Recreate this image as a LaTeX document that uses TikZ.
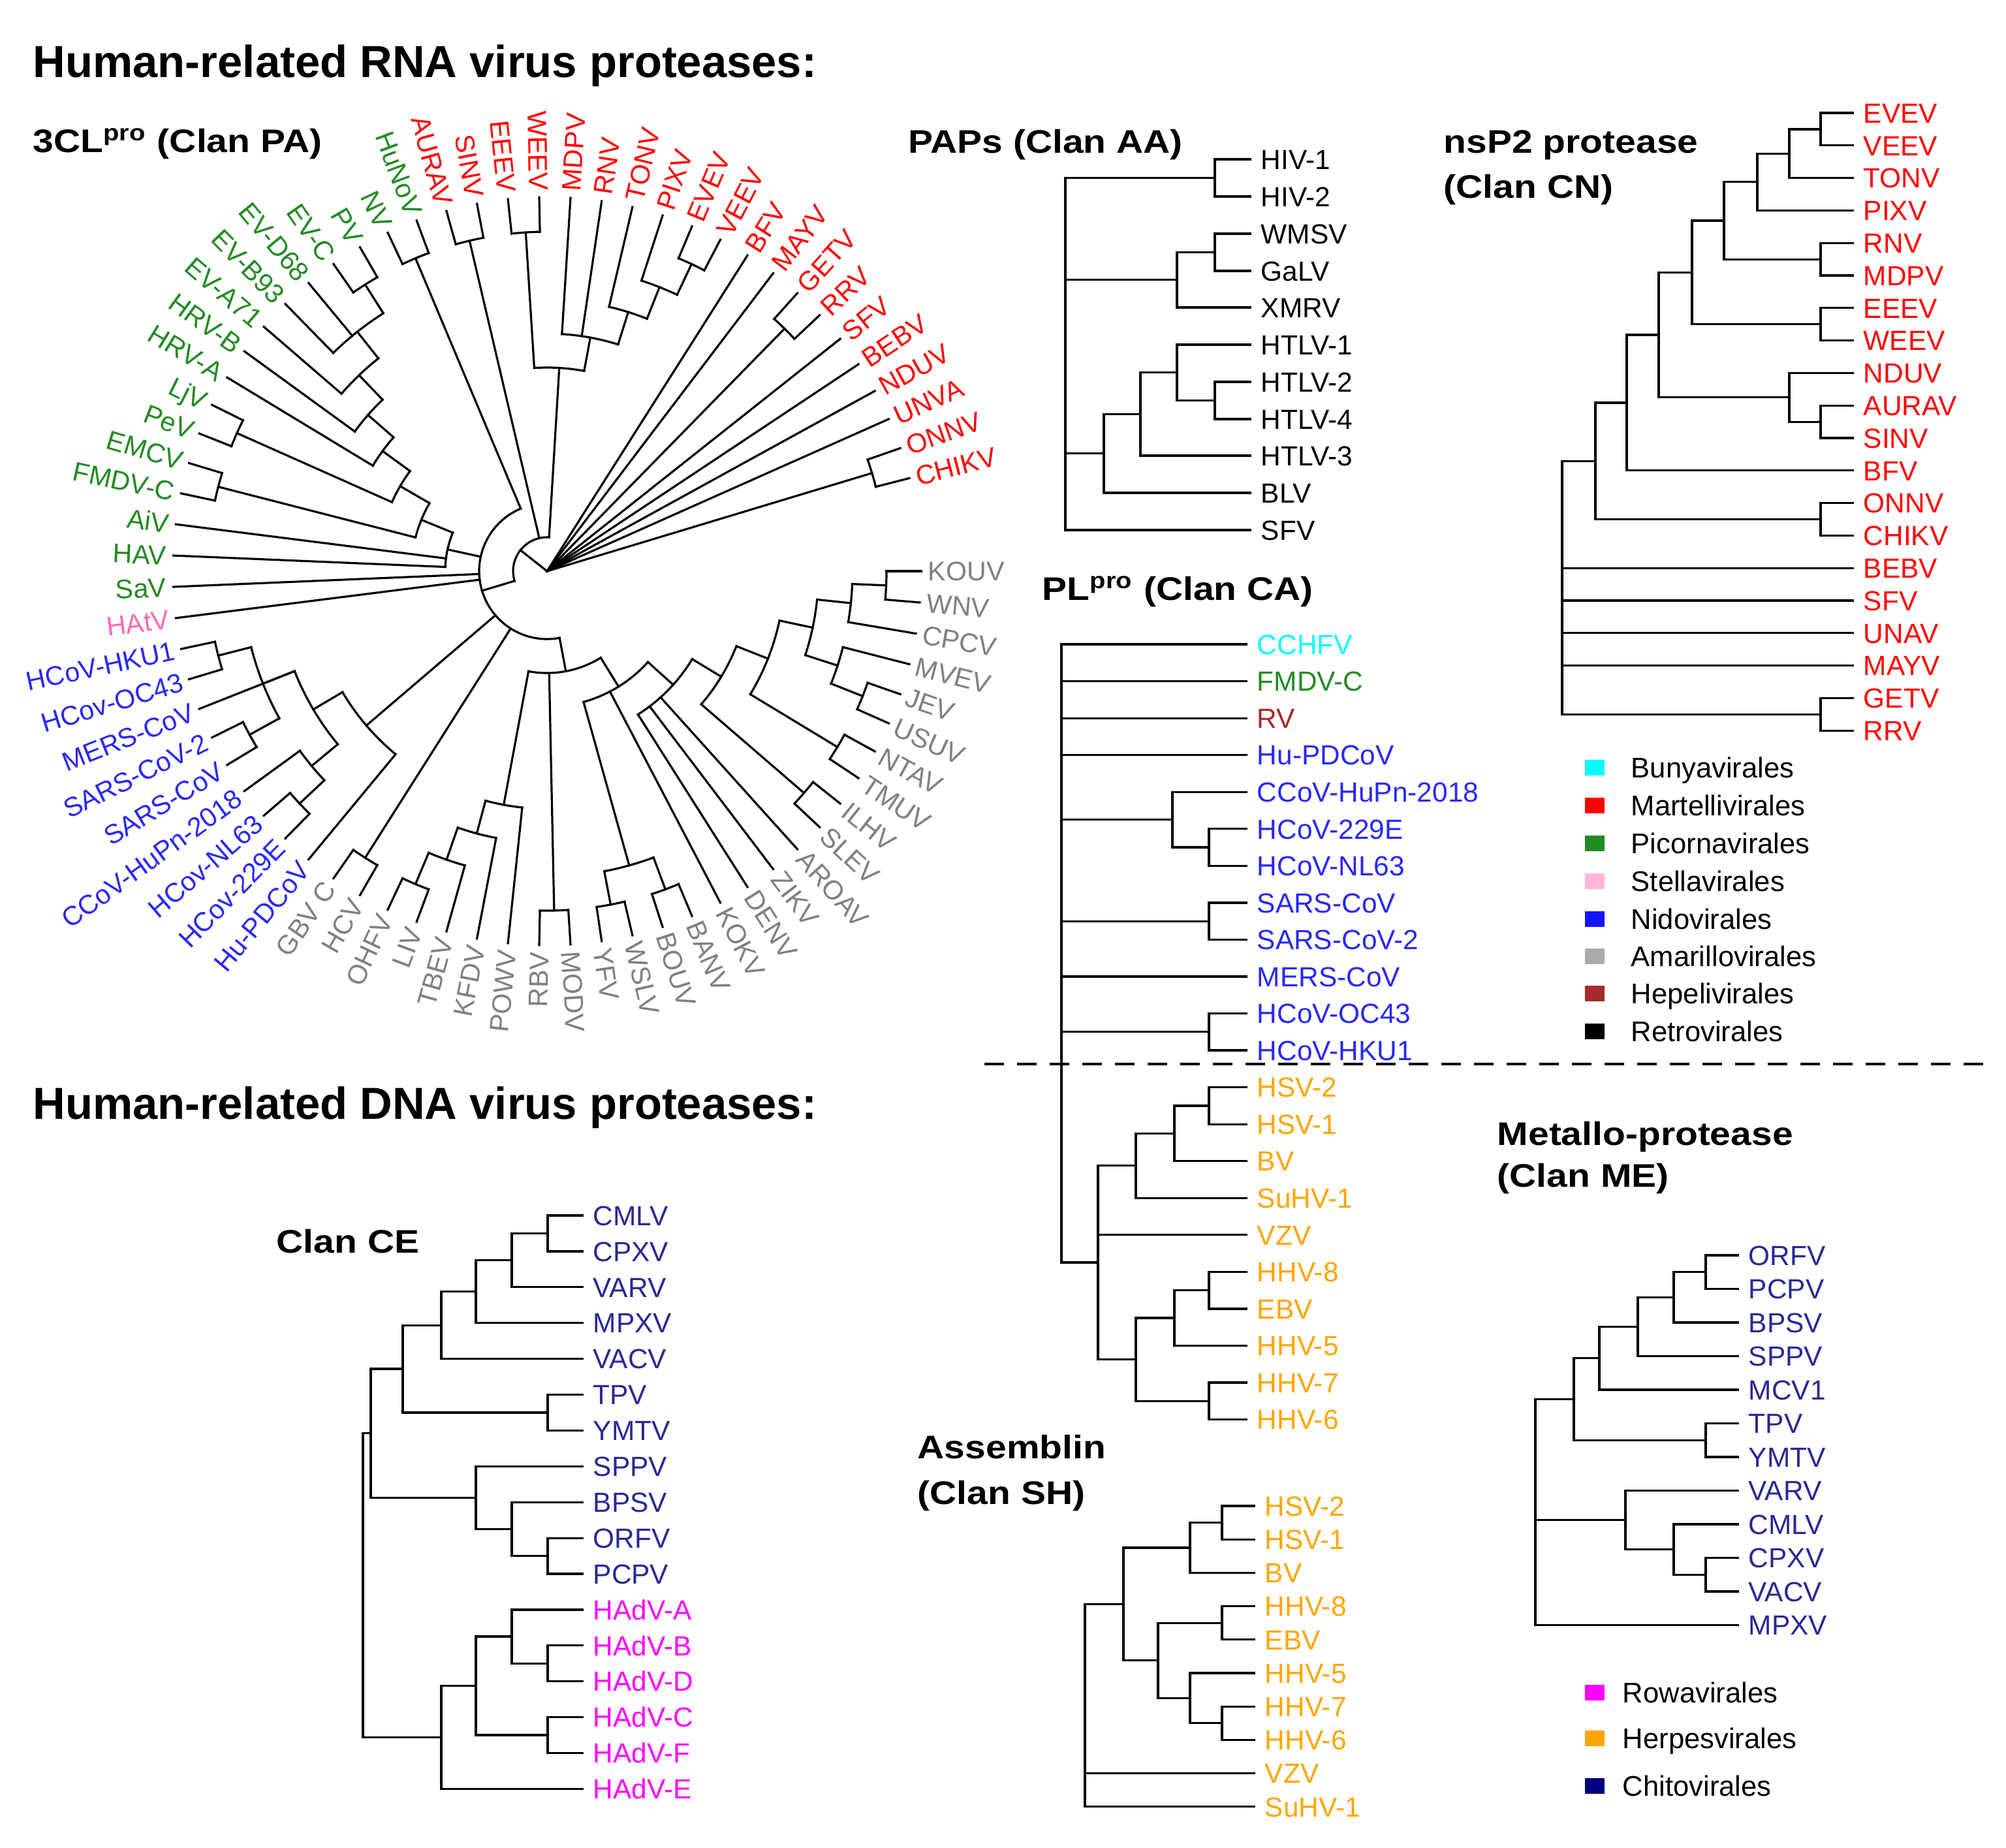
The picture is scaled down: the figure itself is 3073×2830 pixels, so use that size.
\documentclass[tikz,border=0pt]{standalone}
\usepackage{fontspec}
\setmainfont{Liberation Sans}
\usepackage{graphicx}
\definecolor{cred}{RGB}{255,0,0}
\definecolor{cgreen}{RGB}{34,139,34}
\definecolor{cblue}{RGB}{40,40,245}
\definecolor{cgray}{RGB}{128,128,128}
\definecolor{cpink}{RGB}{255,105,180}
\definecolor{ccyan}{RGB}{0,255,255}
\definecolor{cbrown}{RGB}{165,42,42}
\definecolor{corange}{RGB}{255,165,0}
\definecolor{cnavy}{RGB}{40,40,150}
\definecolor{cmag}{RGB}{255,0,255}
\definecolor{lpink}{RGB}{255,182,217}
\definecolor{lgray}{RGB}{170,170,170}
\definecolor{lblue}{RGB}{20,20,255}
\definecolor{lnavy}{RGB}{0,0,128}
\tikzset{
 tree/.style={line width=0.8pt, line cap=rect},
 lab/.style={anchor=west, inner xsep=4pt, inner ysep=0pt, font=\fontsize{10.6}{12}\selectfont, text height=7.6pt, text depth=0pt},
 clab/.style={inner sep=0pt, font=\fontsize{10.3}{12}\selectfont, text height=7.4pt, text depth=0pt},
 ttl/.style={anchor=base west, inner sep=0pt, font=\bfseries\fontsize{17.2}{20}\selectfont},
 sttl/.style={anchor=base west, inner sep=0pt, font=\bfseries\fontsize{12.5}{15}\selectfont},
 legt/.style={anchor=west, inner sep=0pt, font=\fontsize{10.9}{12}\selectfont, text height=7.8pt, text depth=0pt},
}
\newcommand\lf[4]{\node[lab,text=#4] (#1) at (#2) {#3};}
\newcommand\jn[3]{\draw[tree] (#2) -| (#1) |- (#3);}
\newcommand\jm[2]{\draw[tree] (#2) -- (#2 -| #1);}
\newcommand\carc[3]{\draw[tree] (#2:#1) arc[start angle=#2, end angle=#3, radius=#1];}
\newcommand\crad[3]{\draw[tree] (#1:#2) -- (#1:#3);}
\newcommand\sq[3]{\fill[#1] (#2-15,#3-12) rectangle (#2+15,#3+12);}
\newcommand\stt[1]{\scalebox{1.14}[1]{#1}}
\begin{document}
\begin{tikzpicture}[x=0.25pt,y=-0.25pt]
\fill[white] (0,0) rectangle (3073,2830);
\useasboundingbox (0,0) rectangle (3073,2830);

% ---------- titles ----------
\node[ttl] (t1) at (50,118) {Human-related RNA virus proteases:};
\node[ttl] (t2) at (50,1714) {Human-related DNA virus proteases:};
\node[sttl] (s1) at (50,233) {\stt{3CL\textsuperscript{pro} (Clan PA)}};
\node[sttl] (s2) at (1391,234) {\stt{PAPs (Clan AA)}};
\node[sttl] (s3) at (2211,234) {\stt{nsP2 protease}};
\node[sttl] (s3b) at (2211,303) {\stt{(Clan CN)}};
\node[sttl] (s4) at (1596,919) {\stt{PL\textsuperscript{pro} (Clan CA)}};
\node[sttl] (s5) at (2293,1754) {\stt{Metallo-protease}};
\node[sttl] (s5b) at (2293,1818) {\stt{(Clan ME)}};
\node[sttl] (s6) at (423,1919) {\stt{Clan CE}};
\node[sttl] (s7) at (1405,2234) {\stt{Assemblin}};
\node[sttl] (s7b) at (1405,2304) {\stt{(Clan SH)}};

% ---------- circular tree (3CLpro) ----------
\begin{scope}[shift={(838,875)}, yscale=-1]
\foreach \nm/\cl/\pr [count=\i from 0] in {CHIKV/cred/520, ONNV/cred/520, UNVA/cred/0, NDUV/cred/0, BEBV/cred/0, SFV/cred/0, RRV/cred/520, GETV/cred/520, MAYV/cred/0, BFV/cred/0, VEEV/cred/520, EVEV/cred/520, PIXV/cred/468, TONV/cred/416, RNV/cred/364, MDPV/cred/364, WEEV/cred/520, EEEV/cred/520, SINV/cred/520, AURAV/cred/520, HuNoV/cgreen/520, NV/cgreen/520, PV/cgreen/520, EV-C/cgreen/520, EV-D68/cgreen/468, EV-B93/cgreen/468, EV-A71/cgreen/416, HRV-B/cgreen/364, HRV-A/cgreen/312, LjV/cgreen/520, PeV/cgreen/520, EMCV/cgreen/520, FMDV-C/cgreen/520, AiV/cgreen/156, HAV/cgreen/156, SaV/cgreen/104, HAtV/cpink/104, HCoV-HKU1/cblue/520, HCov-OC43/cblue/520, MERS-CoV/cblue/416, SARS-CoV-2/cblue/520, SARS-CoV/cblue/520, CCoV-HuPn-2018/cblue/468, HCov-NL63/cblue/520, HCov-229E/cblue/520, Hu-PDCoV/cblue/364, GBV C/cgray/520, HCV/cgray/520, OHFV/cgray/520, LIV/cgray/520, TBEV/cgray/468, KFDV/cgray/416, POWV/cgray/364, RBV/cgray/520, MODV/cgray/520, YFV/cgray/520, WSLV/cgray/520, BOUV/cgray/520, BANV/cgray/520, KOKV/cgray/208, DENV/cgray/260, ZIKV/cgray/260, AROAV/cgray/260, SLEV/cgray/520, ILHV/cgray/520, TMUV/cgray/520, NTAV/cgray/520, USUV/cgray/520, JEV/cgray/520, MVEV/cgray/468, CPCV/cgray/468, WNV/cgray/520, KOUV/cgray/520}{
  \pgfmathsetmacro\tht{14.4+4.8*\i}
  \draw[tree] (\tht:\pr) -- (\tht:573);
  \ifdim\tht pt<90pt
    \node[clab,text=\cl,anchor=west,rotate=\tht] (c\i) at (\tht:583) {\nm};
  \else\ifdim\tht pt>270pt
    \node[clab,text=\cl,anchor=west,rotate=\tht] (c\i) at (\tht:583) {\nm};
  \else
    \pgfmathsetmacro\rt{\tht-180}
    \node[clab,text=\cl,anchor=east,rotate=\rt] (c\i) at (\tht:583) {\nm};
  \fi\fi
}
% alphaviruses
\carc{520}{14.4}{19.2} \crad{16.8}{0}{520}
\carc{520}{43.2}{48} \crad{45.6}{0}{520}
\carc{520}{62.4}{67.2} \crad{64.8}{468}{520}
\carc{468}{64.8}{72} \crad{68.4}{416}{468}
\carc{416}{68.4}{76.8} \crad{72.6}{364}{416}
\carc{364}{72.6}{86.4} \crad{79.5}{312}{364}
\carc{520}{91.2}{96} \crad{93.6}{312}{520}
\carc{312}{79.5}{93.6} \crad{86.55}{52}{312}
\carc{520}{100.8}{105.6} \crad{103.2}{52}{520}
\carc{52}{86.55}{196.725} \crad{141.64}{0}{52}
\carc{104}{112.8}{280.65} \crad{196.725}{52}{104}
\carc{520}{110.4}{115.2} \crad{112.8}{104}{520}
% picornaviruses
\carc{520}{120}{124.8} \crad{122.4}{468}{520}
\carc{468}{122.4}{134.4} \crad{128.4}{416}{468}
\carc{416}{128.4}{139.2} \crad{133.8}{364}{416}
\carc{364}{133.8}{144} \crad{138.9}{312}{364}
\carc{312}{138.9}{148.8} \crad{143.85}{260}{312}
\carc{520}{153.6}{158.4} \crad{156}{260}{520}
\carc{260}{143.85}{156} \crad{149.925}{208}{260}
\carc{520}{163.2}{168} \crad{165.6}{208}{520}
\carc{208}{149.925}{165.6} \crad{157.76}{156}{208}
\carc{156}{157.76}{177.6} \crad{167.68}{104}{156}
% coronaviruses
\carc{520}{192}{196.8} \crad{194.4}{468}{520}
\carc{520}{206.4}{211.2} \crad{208.8}{468}{520}
\carc{468}{194.4}{208.8} \crad{201.6}{416}{468}
\carc{520}{220.8}{225.6} \crad{223.2}{468}{520}
\carc{468}{216}{223.2} \crad{219.6}{416}{468}
\carc{416}{201.6}{219.6} \crad{210.6}{364}{416}
\carc{364}{210.6}{230.4} \crad{220.5}{104}{364}
% hepaci
\carc{520}{235.2}{240} \crad{237.6}{104}{520}
% flaviviruses
\carc{520}{244.8}{249.6} \crad{247.2}{468}{520}
\carc{468}{247.2}{254.4} \crad{250.8}{416}{468}
\carc{416}{250.8}{259.2} \crad{255}{364}{416}
\carc{364}{255}{264} \crad{259.5}{156}{364}
\carc{520}{268.8}{273.6} \crad{271.2}{156}{520}
\carc{520}{278.4}{283.2} \crad{280.8}{468}{520}
\carc{520}{288}{292.8} \crad{290.4}{468}{520}
\carc{468}{280.8}{290.4} \crad{285.6}{208}{468}
\carc{260}{302.4}{328.8} \crad{318}{208}{260}
\carc{520}{316.8}{321.6} \crad{319.2}{312}{520}
\carc{520}{326.4}{331.2} \crad{328.8}{364}{520}
\carc{520}{336}{340.8} \crad{338.4}{468}{520}
\carc{468}{338.4}{345.6} \crad{342}{416}{468}
\carc{520}{355.2}{360} \crad{357.6}{468}{520}
\carc{468}{350.4}{357.6} \crad{354}{416}{468}
\carc{416}{342}{354} \crad{348}{364}{416}
\carc{364}{328.8}{348} \crad{338.4}{312}{364}
\carc{312}{319.2}{338.4} \crad{328.8}{260}{312}
\carc{208}{285.6}{318} \crad{301.8}{156}{208}
\carc{156}{259.5}{301.8} \crad{280.65}{104}{156}
\end{scope}

% ---------- PAPs (Clan AA) ----------
\lf{p1}{1915,244}{HIV-1}{black}
\lf{p2}{1915,301}{HIV-2}{black}
\lf{p3}{1915,358}{WMSV}{black}
\lf{p4}{1915,415}{GaLV}{black}
\lf{p5}{1915,471}{XMRV}{black}
\lf{p6}{1915,528}{HTLV-1}{black}
\lf{p7}{1915,585}{HTLV-2}{black}
\lf{p8}{1915,642}{HTLV-4}{black}
\lf{p9}{1915,698}{HTLV-3}{black}
\lf{p10}{1915,755}{BLV}{black}
\lf{p11}{1915,812}{SFV}{black}
\coordinate (pa1) at (1861,272.5);
\coordinate (pa2) at (1861,386.5);
\coordinate (pa3) at (1803,428.75);
\coordinate (pa4) at (1861,613.5);
\coordinate (pa5) at (1803,570.75);
\coordinate (pa6) at (1747,634.4);
\coordinate (pa7) at (1691,694.7);
\coordinate (pa0) at (1632,542);
\jn{pa1}{p1.west}{p2.west}
\jn{pa2}{p3.west}{p4.west}
\jn{pa3}{pa2}{p5.west}
\jn{pa4}{p7.west}{p8.west}
\jn{pa5}{p6.west}{pa4}
\jn{pa6}{pa5}{p9.west}
\jn{pa7}{pa6}{p10.west}
\jn{pa0}{pa1}{p11.west}
\jm{pa0}{pa3}
\jm{pa0}{pa7}

% ---------- nsP2 protease (Clan CN) ----------
\lf{n1}{2838,173}{EVEV}{cred}
\lf{n2}{2838,222.8}{VEEV}{cred}
\lf{n3}{2838,272.6}{TONV}{cred}
\lf{n4}{2838,322.4}{PIXV}{cred}
\lf{n5}{2838,372.2}{RNV}{cred}
\lf{n6}{2838,422}{MDPV}{cred}
\lf{n7}{2838,471.8}{EEEV}{cred}
\lf{n8}{2838,521.6}{WEEV}{cred}
\lf{n9}{2838,571.4}{NDUV}{cred}
\lf{n10}{2838,621.2}{AURAV}{cred}
\lf{n11}{2838,671}{SINV}{cred}
\lf{n12}{2838,720.8}{BFV}{cred}
\lf{n13}{2838,770.6}{ONNV}{cred}
\lf{n14}{2838,820.4}{CHIKV}{cred}
\lf{n15}{2838,870.2}{BEBV}{cred}
\lf{n16}{2838,920}{SFV}{cred}
\lf{n17}{2838,969.8}{UNAV}{cred}
\lf{n18}{2838,1019.6}{MAYV}{cred}
\lf{n19}{2838,1069.4}{GETV}{cred}
\lf{n20}{2838,1119.2}{RRV}{cred}
\coordinate (b1) at (2789,197.9);
\coordinate (b2) at (2741,235.25);
\coordinate (b3) at (2692,278.8);
\coordinate (b4) at (2789,397.1);
\coordinate (b5) at (2641,337.95);
\coordinate (b6) at (2789,496.7);
\coordinate (b7) at (2592,417.3);
\coordinate (b8) at (2789,646.1);
\coordinate (b9) at (2741,608.75);
\coordinate (b10) at (2541,513);
\coordinate (b11) at (2492,616.9);
\coordinate (b12) at (2789,795.5);
\coordinate (b13) at (2444,706.2);
\coordinate (b14) at (2789,1094.3);
\coordinate (b0) at (2393,900);
\jn{b1}{n1.west}{n2.west}
\jn{b2}{b1}{n3.west}
\jn{b3}{b2}{n4.west}
\jn{b4}{n5.west}{n6.west}
\jn{b5}{b3}{b4}
\jn{b6}{n7.west}{n8.west}
\jn{b7}{b5}{b6}
\jn{b8}{n10.west}{n11.west}
\jn{b9}{n9.west}{b8}
\jn{b10}{b7}{b9}
\jn{b11}{b10}{n12.west}
\jn{b12}{n13.west}{n14.west}
\jn{b13}{b11}{b12}
\jn{b14}{n19.west}{n20.west}
\jn{b0}{b13}{b14}
\jm{b0}{n15.west}
\jm{b0}{n16.west}
\jm{b0}{n17.west}
\jm{b0}{n18.west}

% ---------- PLpro (Clan CA) ----------
\lf{q1}{1909,987}{CCHFV}{ccyan}
\lf{q2}{1909,1043.5}{FMDV-C}{cgreen}
\lf{q3}{1909,1100.1}{RV}{cbrown}
\lf{q4}{1909,1156.6}{Hu-PDCoV}{cblue}
\lf{q5}{1909,1213.2}{CCoV-HuPn-2018}{cblue}
\lf{q6}{1909,1269.8}{HCoV-229E}{cblue}
\lf{q7}{1909,1326.3}{HCoV-NL63}{cblue}
\lf{q8}{1909,1382.9}{SARS-CoV}{cblue}
\lf{q9}{1909,1439.4}{SARS-CoV-2}{cblue}
\lf{q10}{1909,1496}{MERS-CoV}{cblue}
\lf{q11}{1909,1552.5}{HCoV-OC43}{cblue}
\lf{q12}{1909,1609}{HCoV-HKU1}{cblue}
\lf{q13}{1909,1665.6}{HSV-2}{corange}
\lf{q14}{1909,1722.2}{HSV-1}{corange}
\lf{q15}{1909,1778.7}{BV}{corange}
\lf{q16}{1909,1835.3}{SuHV-1}{corange}
\lf{q17}{1909,1891.8}{VZV}{corange}
\lf{q18}{1909,1948.4}{HHV-8}{corange}
\lf{q19}{1909,2004.9}{EBV}{corange}
\lf{q20}{1909,2061.5}{HHV-5}{corange}
\lf{q21}{1909,2118}{HHV-7}{corange}
\lf{q22}{1909,2174.6}{HHV-6}{corange}
\coordinate (c1) at (1852,1298);
\coordinate (c2) at (1796,1255.6);
\coordinate (c3) at (1852,1411.2);
\coordinate (c4) at (1852,1580.8);
\coordinate (h1) at (1852,1693.9);
\coordinate (h2) at (1799,1736.3);
\coordinate (h3) at (1740,1785.8);
\coordinate (h5) at (1852,1976.65);
\coordinate (h7) at (1799,2019);
\coordinate (h6) at (1852,2146.3);
\coordinate (h8) at (1740,2082.7);
\coordinate (h4) at (1682,1934);
\coordinate (c0) at (1626,1400);
\jn{c1}{q6.west}{q7.west}
\jn{c2}{q5.west}{c1}
\jn{c3}{q8.west}{q9.west}
\jn{c4}{q11.west}{q12.west}
\jn{h1}{q13.west}{q14.west}
\jn{h2}{h1}{q15.west}
\jn{h3}{h2}{q16.west}
\jn{h5}{q18.west}{q19.west}
\jn{h7}{h5}{q20.west}
\jn{h6}{q21.west}{q22.west}
\jn{h8}{h7}{h6}
\jn{h4}{h3}{h8}
\jm{h4}{q17.west}
\jn{c0}{q1.west}{h4}
\jm{c0}{q2.west}
\jm{c0}{q3.west}
\jm{c0}{q4.west}
\jm{c0}{c2}
\jm{c0}{c3}
\jm{c0}{q10.west}
\jm{c0}{c4}

% dashed separator
\coordinate (dl) at (1508,1630);
\coordinate (dr) at (3042,1630);
\draw[line width=1.1pt, dash pattern=on 7.5pt off 5pt] (dl) -- (dr);

% ---------- legend 1 ----------
\sq{ccyan}{2443}{1176}  \node[legt] (l1) at (2498,1176) {Bunyavirales};
\sq{cred}{2443}{1234}   \node[legt] (l2) at (2498,1234) {Martellivirales};
\sq{cgreen}{2443}{1292} \node[legt] (l3) at (2498,1292) {Picornavirales};
\sq{lpink}{2443}{1350}  \node[legt] (l4) at (2498,1350) {Stellavirales};
\sq{lblue}{2443}{1408}  \node[legt] (l5) at (2498,1408) {Nidovirales};
\sq{lgray}{2443}{1465}  \node[legt] (l6) at (2498,1465) {Amarillovirales};
\sq{cbrown}{2443}{1522} \node[legt] (l7) at (2498,1522) {Hepelivirales};
\sq{black}{2443}{1580}  \node[legt] (l8) at (2498,1580) {Retrovirales};

% ---------- Metallo-protease (Clan ME) ----------
\lf{m1}{2662,1923}{ORFV}{cnavy}
\lf{m2}{2662,1974.5}{PCPV}{cnavy}
\lf{m3}{2662,2026}{BPSV}{cnavy}
\lf{m4}{2662,2077.5}{SPPV}{cnavy}
\lf{m5}{2662,2129}{MCV1}{cnavy}
\lf{m6}{2662,2180.5}{TPV}{cnavy}
\lf{m7}{2662,2232}{YMTV}{cnavy}
\lf{m8}{2662,2283.5}{VARV}{cnavy}
\lf{m9}{2662,2335}{CMLV}{cnavy}
\lf{m10}{2662,2386.5}{CPXV}{cnavy}
\lf{m11}{2662,2438}{VACV}{cnavy}
\lf{m12}{2662,2489.5}{MPXV}{cnavy}
\coordinate (md1) at (2613,1948.75);
\coordinate (md2) at (2564,1987.4);
\coordinate (md3) at (2509,2032.4);
\coordinate (md4) at (2450,2080.7);
\coordinate (md5) at (2613,2206.25);
\coordinate (md6) at (2411,2143.5);
\coordinate (md7) at (2613,2412.25);
\coordinate (md8) at (2564,2373.6);
\coordinate (md9) at (2490,2328.5);
\coordinate (md0) at (2352,2300);
\jn{md1}{m1.west}{m2.west}
\jn{md2}{md1}{m3.west}
\jn{md3}{md2}{m4.west}
\jn{md4}{md3}{m5.west}
\jn{md5}{m6.west}{m7.west}
\jn{md6}{md4}{md5}
\jn{md7}{m10.west}{m11.west}
\jn{md8}{m9.west}{md7}
\jn{md9}{m8.west}{md8}
\jn{md0}{md6}{m12.west}
\jm{md0}{md9}

% ---------- Clan CE ----------
\lf{e1}{892,1862}{CMLV}{cnavy}
\lf{e2}{892,1916.9}{CPXV}{cnavy}
\lf{e3}{892,1971.8}{VARV}{cnavy}
\lf{e4}{892,2026.7}{MPXV}{cnavy}
\lf{e5}{892,2081.6}{VACV}{cnavy}
\lf{e6}{892,2136.5}{TPV}{cnavy}
\lf{e7}{892,2191.4}{YMTV}{cnavy}
\lf{e8}{892,2246.3}{SPPV}{cnavy}
\lf{e9}{892,2301.2}{BPSV}{cnavy}
\lf{e10}{892,2356.1}{ORFV}{cnavy}
\lf{e11}{892,2411}{PCPV}{cnavy}
\lf{e12}{892,2465.9}{HAdV-A}{cmag}
\lf{e13}{892,2520.8}{HAdV-B}{cmag}
\lf{e14}{892,2575.7}{HAdV-D}{cmag}
\lf{e15}{892,2630.6}{HAdV-C}{cmag}
\lf{e16}{892,2685.5}{HAdV-F}{cmag}
\lf{e17}{892,2740.4}{HAdV-E}{cmag}
\coordinate (ed1) at (839,1889.45);
\coordinate (ed2) at (784,1930.6);
\coordinate (ed3) at (729,1978.7);
\coordinate (ed4) at (676,2030.2);
\coordinate (ed5) at (839,2163.95);
\coordinate (ed6) at (617,2097);
\coordinate (ed7) at (839,2383.55);
\coordinate (ed8) at (784,2342.4);
\coordinate (ed9) at (729,2294.35);
\coordinate (ed10) at (568,2195.7);
\coordinate (ed11) at (839,2548.25);
\coordinate (ed12) at (784,2507);
\coordinate (ed13) at (839,2658);
\coordinate (ed14) at (729,2582.5);
\coordinate (ed15) at (676,2661.5);
\coordinate (ed0) at (556,2400);
\jn{ed1}{e1.west}{e2.west}
\jn{ed2}{ed1}{e3.west}
\jn{ed3}{ed2}{e4.west}
\jn{ed4}{ed3}{e5.west}
\jn{ed5}{e6.west}{e7.west}
\jn{ed6}{ed4}{ed5}
\jn{ed7}{e10.west}{e11.west}
\jn{ed8}{e9.west}{ed7}
\jn{ed9}{e8.west}{ed8}
\jn{ed10}{ed6}{ed9}
\jn{ed11}{e13.west}{e14.west}
\jn{ed12}{e12.west}{ed11}
\jn{ed13}{e15.west}{e16.west}
\jn{ed14}{ed12}{ed13}
\jn{ed15}{ed14}{e17.west}
\jn{ed0}{ed10}{ed15}

% ---------- Assemblin (Clan SH) ----------
\lf{a1}{1921,2307}{HSV-2}{corange}
\lf{a2}{1921,2358.2}{HSV-1}{corange}
\lf{a3}{1921,2409.4}{BV}{corange}
\lf{a4}{1921,2460.6}{HHV-8}{corange}
\lf{a5}{1921,2511.8}{EBV}{corange}
\lf{a6}{1921,2563}{HHV-5}{corange}
\lf{a7}{1921,2614.2}{HHV-7}{corange}
\lf{a8}{1921,2665.4}{HHV-6}{corange}
\lf{a9}{1921,2716.6}{VZV}{corange}
\lf{a10}{1921,2767.8}{SuHV-1}{corange}
\coordinate (f1) at (1872,2332.6);
\coordinate (f2) at (1823,2371);
\coordinate (f3) at (1872,2486.2);
\coordinate (f4) at (1872,2639.8);
\coordinate (f5) at (1823,2601.4);
\coordinate (f6) at (1774,2543.8);
\coordinate (f7) at (1721,2457.4);
\coordinate (f0) at (1662,2600);
\jn{f1}{a1.west}{a2.west}
\jn{f2}{f1}{a3.west}
\jn{f3}{a4.west}{a5.west}
\jn{f4}{a7.west}{a8.west}
\jn{f5}{a6.west}{f4}
\jn{f6}{f3}{f5}
\jn{f7}{f2}{f6}
\jn{f0}{f7}{a10.west}
\jm{f0}{a9.west}

% ---------- legend 2 ----------
\sq{cmag}{2443}{2593}   \node[legt] (k1) at (2485,2593) {Rowavirales};
\sq{corange}{2443}{2663} \node[legt] (k2) at (2485,2663) {Herpesvirales};
\sq{lnavy}{2443}{2736}  \node[legt] (k3) at (2485,2736) {Chitovirales};
\end{tikzpicture}
\end{document}
